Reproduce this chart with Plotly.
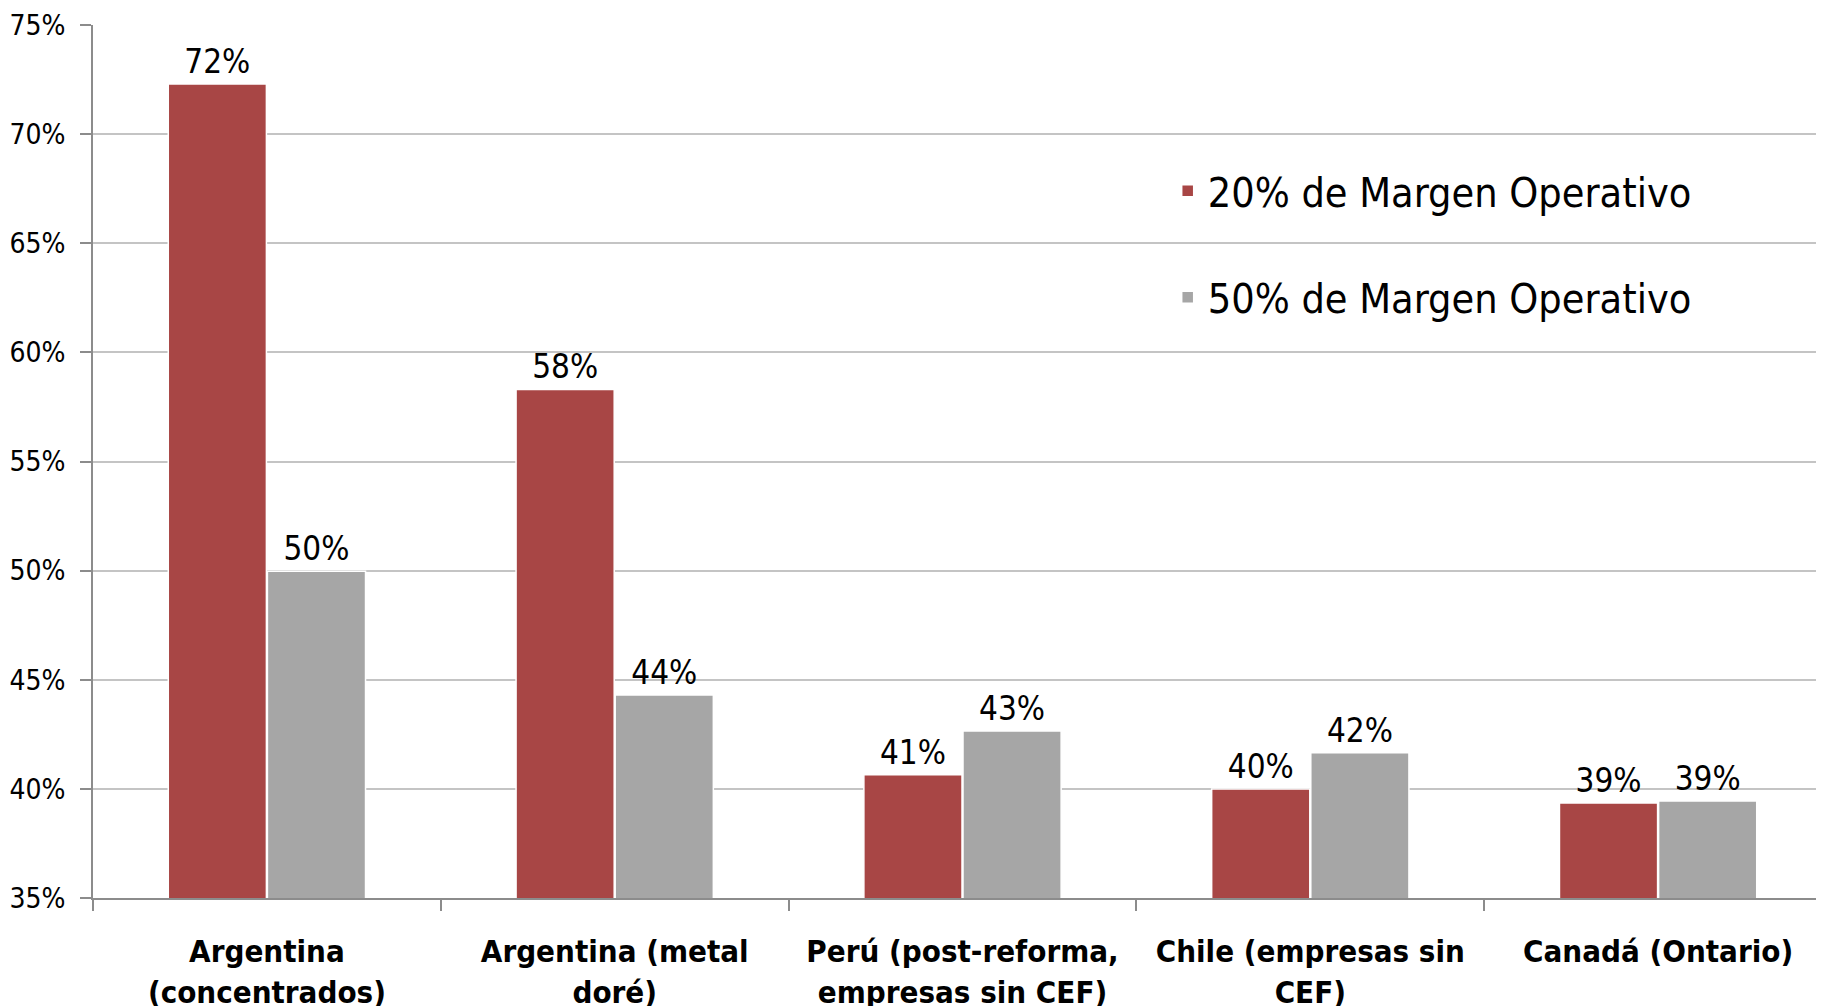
import plotly.graph_objects as go

# categories and series (percent)
categories = [
    "Argentina<br>(concentrados)",
    "Argentina (metal<br>doré)",
    "Perú (post-reforma,<br>empresas sin CEF)",
    "Chile (empresas sin<br>CEF)",
    "Canadá (Ontario)",
]
margen_20 = [72.3, 58.3, 40.65, 40.0, 39.35]
margen_50 = [49.97, 44.3, 42.65, 41.65, 39.45]

series_names = ["20% de Margen Operativo", "50% de Margen Operativo"]
colors = ["#a84645", "#a6a6a6"]

FONT = "DejaVu Sans Condensed, DejaVu Sans, sans-serif"

fig = go.Figure()
for i, (name, vals) in enumerate(zip(series_names, [margen_20, margen_50])):
    fig.add_trace(go.Bar(
        x=categories,
        y=vals,
        name=name,
        legendgroup=f"g{i}",
        marker=dict(color=colors[i], line=dict(color="white", width=1.5)),
        texttemplate="%{y:.0f}%",
        textposition="outside",
        textfont=dict(size=33, color="black", family=FONT),
        cliponaxis=False,
    ))

# page body adds an 8px offset, margins are compensated for it
fig.update_layout(
    width=1824, height=1006,
    margin=dict(l=85, r=0, t=17, b=116),
    paper_bgcolor="white",
    plot_bgcolor="white",
    font=dict(family=FONT, color="black"),
    barmode="group",
    bargap=0.43,
    bargroupgap=0.01,
    legend=dict(
        x=0.618, y=0.848, xanchor="left", yanchor="top",
        font=dict(size=41, family=FONT),
        tracegroupgap=50,
        bgcolor="rgba(0,0,0,0)",
        itemwidth=30,
    ),
    yaxis=dict(
        range=[35, 75], dtick=5, ticksuffix="%",
        showgrid=True, gridcolor="#c4c4c4", gridwidth=2,
        showline=True, linecolor="#8c8c8c", linewidth=2,
        ticks="outside", ticklen=11, tickcolor="#8c8c8c", tickwidth=2,
        tickfont=dict(size=28, family=FONT),
        ticklabelstandoff=9,
        ticklabeloverflow="allow",
        zeroline=False,
        automargin=False,
    ),
    xaxis=dict(
        showline=True, linecolor="#8c8c8c", linewidth=2,
        ticks="outside", tickson="boundaries", ticklen=11,
        tickcolor="#8c8c8c", tickwidth=2,
        tickfont=dict(size=31, family=FONT, weight="bold"),
        ticklabelstandoff=25,
        ticklabeloverflow="allow",
        automargin=False,
    ),
)

fig.write_html("out.html")
